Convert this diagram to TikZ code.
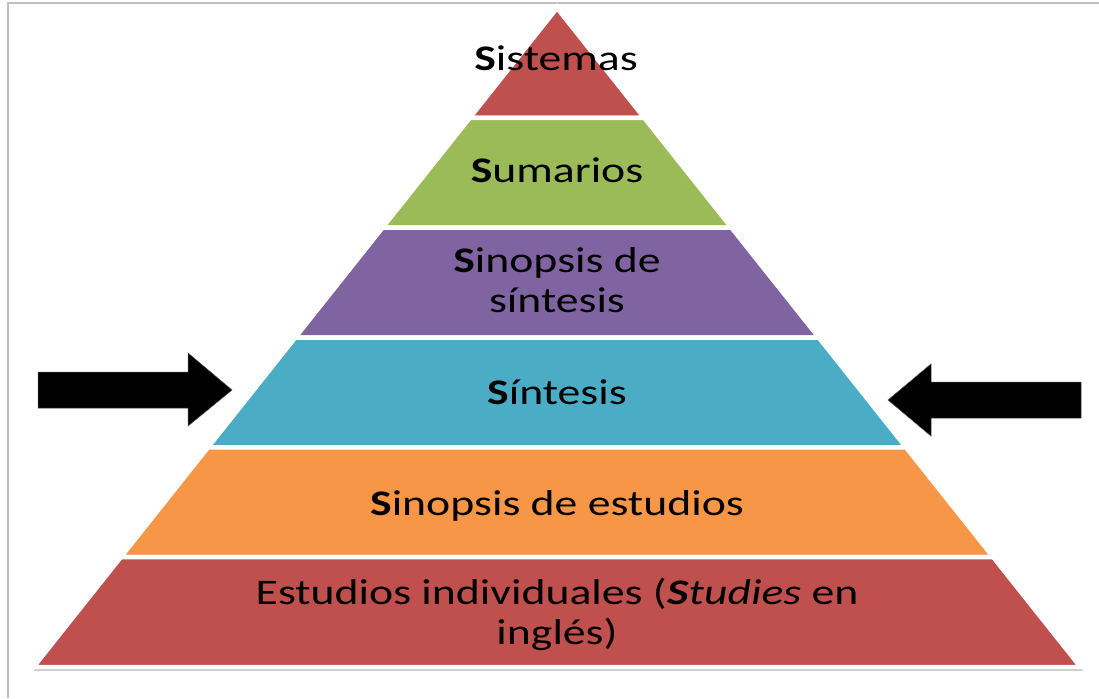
\documentclass[tikz,border=0pt]{standalone}
\usepackage{fontspec}
\setmainfont[FakeStretch=1.27]{Carlito}
\definecolor{cRed}{HTML}{C0504D}
\definecolor{cGreen}{HTML}{9BBB59}
\definecolor{cPurple}{HTML}{8064A2}
\definecolor{cTeal}{HTML}{4BACC6}
\definecolor{cOrange}{HTML}{F79646}
\begin{document}
\begin{tikzpicture}[x=1pt,y=-1pt,
  layer/.style={draw=white,line width=4.5pt,line join=miter,miter limit=20},
  lbl/.style={font=\fontsize{36}{40}\selectfont,align=center,text=black,inner sep=0pt},
  bigarrow/.style={fill=black,draw=black!70,line width=0.5pt}]
\useasboundingbox (0,0) rectangle (1099,698);
\fill[white] (0,0) rectangle (1099,698);
\draw[black!25,line width=1.2pt] (8,698) -- (8,3) -- (1099,3);
% shadow
\fill[black!30] (558,11) -- (1083,670.5) -- (34,670.5) -- cycle;
\fill[white] (557,3) -- (1087,669) -- (27,669) -- cycle;
% layers
\filldraw[layer,fill=cRed]    (557,8) -- (644.25,117.83) -- (469.75,117.83) -- cycle;
\filldraw[layer,fill=cGreen]  (469.75,117.83) -- (644.25,117.83) -- (731.5,227.67) -- (382.5,227.67) -- cycle;
\filldraw[layer,fill=cPurple] (382.5,227.67) -- (731.5,227.67) -- (818.75,337.5) -- (295.25,337.5) -- cycle;
\filldraw[layer,fill=cTeal]   (295.25,337.5) -- (818.75,337.5) -- (906,447.33) -- (208,447.33) -- cycle;
\filldraw[layer,fill=cOrange] (208,447.33) -- (906,447.33) -- (993.25,557.17) -- (120.75,557.17) -- cycle;
\filldraw[layer,fill=cRed]    (120.75,557.17) -- (993.25,557.17) -- (1080.5,667) -- (33.5,667) -- cycle;
% labels
\node[lbl,anchor=base] (l1) at (556,71) {\textbf{S}istemas};
\node[lbl,anchor=base] (l2) at (557,182) {\textbf{S}umarios};
\node[lbl] (l3) at (557,280) {\textbf{S}inopsis de\\síntesis};
\node[lbl,anchor=base] (l4) at (557,404) {\textbf{S}íntesis};
\node[lbl,anchor=base] (l5) at (557,515) {\textbf{S}inopsis de estudios};
\node[lbl] (l6) at (557,614) {Estudios individuales (\textbf{\textit{S}}\textit{tudies} en\\inglés)};
% arrows
\filldraw[bigarrow] (38,372) -- (188,372) -- (188,353) -- (232,390) -- (188,426) -- (188,408) -- (38,408) -- cycle;
\filldraw[bigarrow] (1081,382) -- (931,382) -- (931,364) -- (888,400) -- (931,436) -- (931,418) -- (1081,418) -- cycle;
\end{tikzpicture}
\end{document}
